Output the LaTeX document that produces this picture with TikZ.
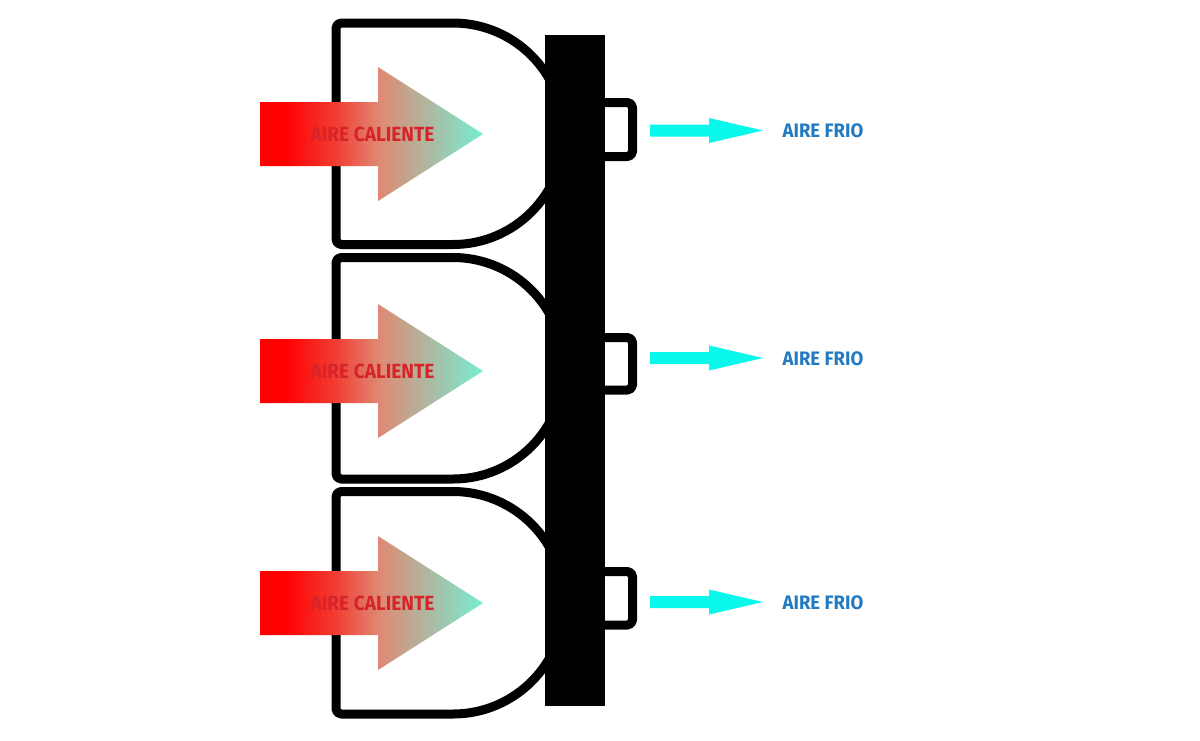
\documentclass[tikz,border=0pt]{standalone}
\usepackage{fontspec}
\setmainfont{Fira Sans}
\definecolor{hotred}{RGB}{255,0,0}
\definecolor{hotmid}{RGB}{224,136,114}
\definecolor{hotend}{RGB}{118,238,212}
\definecolor{hottext}{RGB}{214,36,40}
\definecolor{coldarrow}{RGB}{10,248,235}
\definecolor{coldtext}{RGB}{36,122,192}
\pgfdeclarehorizontalshading{hotflow}{100bp}{
  color(0bp)=(hotred); color(30.6bp)=(hotred); color(42bp)=(hotred!55!hotmid);
  color(51.5bp)=(hotmid); color(75bp)=(hotend); color(100bp)=(hotend)}
\tikzset{
  outline/.style={draw=black,line width=9pt,line join=round,fill=white},
  hotarrow/.style={shading=hotflow,draw=none},
  coldarr/.style={fill=coldarrow,draw=none},
  hotlabel/.style={text=hottext,font=\fontsize{20.5}{20.5}\selectfont\bfseries,xscale=0.93,inner sep=0,transform shape},
  coldlabel/.style={text=coldtext,font=\fontsize{19.5}{20}\selectfont\bfseries,xscale=0.95,inner sep=0,transform shape}
}
\begin{document}
\begin{tikzpicture}[x=1pt,y=-1pt]
\useasboundingbox[fill=white] (0,0) rectangle (1200,740);
% housings
\draw[outline] (453,23) arc[start angle=-90,end angle=90,radius=110.75] -- (341,244.5) arc[start angle=90,end angle=180,radius=5] -- (336,28) arc[start angle=180,end angle=270,radius=5] -- cycle;
\draw[outline] (453,257.5) arc[start angle=-90,end angle=90,radius=110.75] -- (341,479) arc[start angle=90,end angle=180,radius=5] -- (336,262.5) arc[start angle=180,end angle=270,radius=5] -- cycle;
\draw[outline] (453,491.5) arc[start angle=-90,end angle=90,radius=111.25] -- (341,714) arc[start angle=90,end angle=180,radius=5] -- (336,496.5) arc[start angle=180,end angle=270,radius=5] -- cycle;
% tabs
\draw[outline,rounded corners=5pt] (600,102.5) -- (632.5,102.5) -- (632.5,156.5) -- (600,156.5);
\draw[outline,rounded corners=5pt] (600,337.5) -- (632.5,337.5) -- (632.5,390) -- (600,390);
\draw[outline,rounded corners=5pt] (600,571.5) -- (632.5,571.5) -- (632.5,625) -- (600,625);
% bar
\fill[black] (545,35) rectangle (605,706);
% hot arrows
\path[hotarrow] (260,102) -- (378,102) -- (378,67) -- (483,134) -- (378,201) -- (378,166) -- (260,166) -- cycle;
\path[hotarrow] (260,339) -- (378,339) -- (378,304) -- (483,371) -- (378,438) -- (378,403) -- (260,403) -- cycle;
\path[hotarrow] (260,571) -- (378,571) -- (378,536) -- (483,603) -- (378,670) -- (378,635) -- (260,635) -- cycle;
\node[hotlabel] (hot1) at (372.5,134.5) {AIRE CALIENTE};
\node[hotlabel] (hot2) at (372.5,371.5) {AIRE CALIENTE};
\node[hotlabel] (hot3) at (372.5,603.5) {AIRE CALIENTE};
% cold arrows
\fill[coldarr] (650,124.5) -- (709,124.5) -- (709,118) -- (763,130.5) -- (709,143) -- (709,136.5) -- (650,136.5) -- cycle;
\fill[coldarr] (650,352) -- (709,352) -- (709,345.5) -- (763,358) -- (709,370.5) -- (709,364) -- (650,364) -- cycle;
\fill[coldarr] (650,596) -- (709,596) -- (709,589.5) -- (763,602) -- (709,614.5) -- (709,608) -- (650,608) -- cycle;
\node[coldlabel] (cold1) at (823,131) {AIRE FRIO};
\node[coldlabel] (cold2) at (823,358.5) {AIRE FRIO};
\node[coldlabel] (cold3) at (823,602.5) {AIRE FRIO};
\end{tikzpicture}
\end{document}
